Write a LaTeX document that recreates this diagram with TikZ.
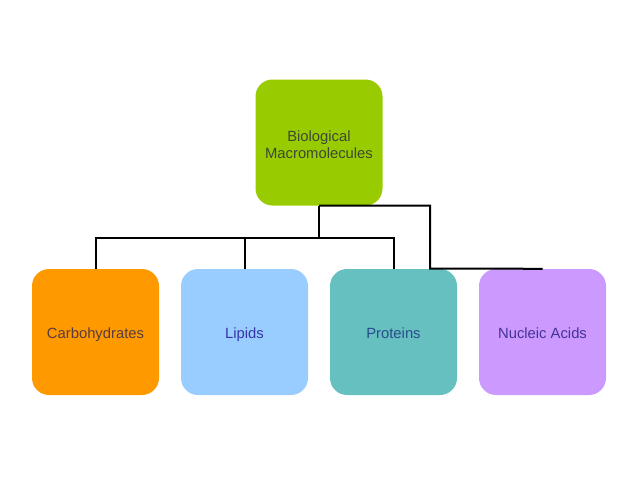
\documentclass[tikz,border=0pt]{standalone}
\usepackage{fontspec}
\setmainfont{Liberation Sans}
\usepackage{tikz}
\usetikzlibrary{positioning}
\definecolor{bmgreen}{HTML}{99CC00}
\definecolor{carbofill}{HTML}{FF9900}
\definecolor{lipidfill}{HTML}{99CCFF}
\definecolor{protfill}{HTML}{66C0C0}
\definecolor{nucfill}{HTML}{CC99FF}
\definecolor{bmtext}{RGB}{60,72,50}
\definecolor{carbotext}{RGB}{88,60,62}
\definecolor{lipidtext}{RGB}{52,54,168}
\definecolor{prottext}{RGB}{40,76,140}
\definecolor{nuctext}{RGB}{70,50,150}
\tikzstyle{macro}=[rectangle,rounded corners=17pt,minimum width=127pt,
			  minimum height=126pt,inner sep=0pt,align=center]
\tikzstyle{group}=[macro,text height=14pt,text depth=2pt]
\tikzstyle{line}=[black,line width=2pt]

\begin{document}
\begin{tikzpicture}[x=1pt,y=1pt,node distance=149pt,
                    font=\fontsize{14.8}{17.5}\selectfont]
	\useasboundingbox (0,0) rectangle (638,-479);
	\node[macro,fill=bmgreen,text=bmtext,text height=35pt,text depth=3pt]
		(bm) at (319,-142.5) {Biological\\Macromolecules};
	\node[group,fill=carbofill,text=carbotext] (carb) at (95.5,-332) {Carbohydrates};
	\node[group,fill=lipidfill,text=lipidtext] (lip) [right of=carb] {Lipids};
	\node[group,fill=protfill,text=prottext] (prot) [right of=lip] {Proteins};
	\node[group,fill=nucfill,text=nuctext] (nuc) [right of=prot] {Nucleic Acids};

	\coordinate (split) at (bm.south |- 0,-237.5);
	\coordinate (elbow) at (430,-268.5);

	\draw [line] (bm.south) -- (split);
	\draw [line] (carb.north) |- (split) -| (prot.north);
	\draw [line] (lip.north) -- (lip.north |- split);
	\draw [line] (bm.south) -| (elbow) -- (nuc.north);
\end{tikzpicture}
\end{document}
